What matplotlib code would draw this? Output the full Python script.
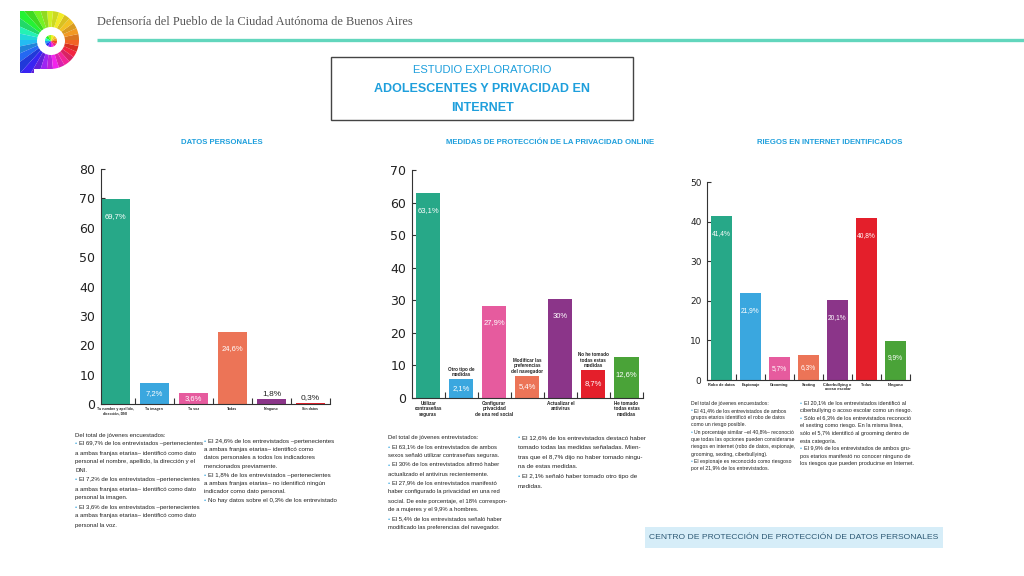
import colorsys
import numpy as np
import matplotlib
matplotlib.use('Agg')
import matplotlib.pyplot as plt
from matplotlib.patches import Rectangle, Polygon, Circle

SANS = ['Liberation Sans', 'DejaVu Sans']
plt.rcParams['font.family'] = SANS

TITLE_BLUE = '#1e9fdc'
BULLET = '#3aa7df'
TEXT = '#222222'

TEAL = '#27a888'
BLUE = '#3aa7df'
PINK = '#e65b9e'
SALMON = '#ec7457'
PURPLE = '#8b3589'
RED = '#e41f2b'
GREEN = '#4aa338'

# --- data ---
datos_cats = ['Tu nombre y apellido,\ndirección, DNI', 'Tu imagen', 'Tu voz',
              'Todas', 'Ninguno', 'Sin datos']
datos_vals = [69.7, 7.2, 3.6, 24.6, 1.8, 0.3]
datos_labels = ['69,7%', '7,2%', '3,6%', '24,6%', '1,8%', '0,3%']

medidas_cats = ['Utilizar\ncontraseñas\nseguras', 'Otro tipo de\nmedidas',
                'Configurar\nprivacidad\nde una red social',
                'Modificar las\npreferencias\ndel navegador',
                'Actualizar el\nantivirus', 'No he tomado\ntodas estas\nmedidas',
                'He tomado\ntodas estas\nmedidas']
medidas_vals = [62.8, 5.7, 28.3, 6.8, 30.3, 8.6, 12.5]   # bar heights as drawn
medidas_labels = ['63,1%', '2,1%', '27,9%', '5,4%', '30%', '8,7%', '12,6%']

riesgos_cats = ['Robo de datos', 'Espionaje', 'Grooming', 'Sexting',
                'Ciberbullying o\nacoso escolar', 'Todas', 'Ninguno']
riesgos_vals = [41.4, 21.9, 5.7, 6.3, 20.1, 40.8, 9.9]
riesgos_labels = ['41,4%', '21,9%', '5,7%', '6,3%', '20,1%', '40,8%', '9,9%']

datos_text_a = [
    'Del total de jóvenes encuestados:',
    '• El 69,7% de los entrevistados –pertenecientes',
    'a ambas franjas etarias– identificó como dato',
    'personal el nombre, apellido, la dirección y el',
    'DNI.',
    '• El 7,2% de los entrevistados –pertenecientes',
    'a ambas franjas etarias– identificó como dato',
    'personal la imagen.',
    '• El 3,6% de los entrevistados –pertenecientes',
    'a ambas franjas etarias– identificó como dato',
    'personal la voz.',
]
datos_text_b = [
    '• El 24,6% de los entrevistados –pertenecientes',
    'a ambas franjas etarias– identificó como',
    'datos personales a todos los indicadores',
    'mencionados previamente.',
    '• El 1,8% de los entrevistados –pertenecientes',
    'a ambas franjas etarias– no identificó ningún',
    'indicador como dato personal.',
    '• No hay datos sobre el 0,3% de los entrevistado',
]
medidas_text_a = [
    'Del total de jóvenes entrevistados:',
    '• El 63,1% de los entrevistados de ambos',
    'sexos señaló utilizar contraseñas seguras.',
    '• El 30% de los entrevistados afirmó haber',
    'actualizado el antivirus recientemente.',
    '• El 27,9% de los entrevistados manifestó',
    'haber configurado la privacidad en una red',
    'social. De este porcentaje, el 18% correspon-',
    'de a mujeres y el 9,9% a hombres.',
    '• El 5,4% de los entrevistados señaló haber',
    'modificado las preferencias del navegador.',
]
medidas_text_b = [
    '• El 12,6% de los entrevistados destacó haber',
    'tomado todas las medidas señaladas. Mien-',
    'tras que el 8,7% dijo no haber tomado ningu-',
    'na de estas medidas.',
    '• El 2,1% señaló haber tomado otro tipo de',
    'medidas.',
]
riesgos_text_a = [
    'Del total de jóvenes encuestados:',
    '• El 41,4% de los entrevistados de ambos',
    'grupos etarios identificó el robo de datos',
    'como un riesgo posible.',
    '• Un porcentaje similar –el 40,8%– reconoció',
    'que todas las opciones pueden considerarse',
    'riesgos en internet (robo de datos, espionaje,',
    'grooming, sexting, ciberbullying).',
    '• El espionaje es reconocido como riesgoso',
    'por el 21,9% de los entrevistados.',
]
riesgos_text_b = [
    '• El 20,1% de los entrevistados identificó al',
    'ciberbullying o acoso escolar como un riesgo.',
    '• Sólo el 6,3% de los entrevistados reconoció',
    'el sexting como riesgo. En la misma línea,',
    'sólo el 5,7% identificó al grooming dentro de',
    'esta categoría.',
    '• El 9,9% de los entrevistados de ambos gru-',
    'pos etarios manifestó no conocer ninguno de',
    'los riesgos que pueden producirse en Internet.',
]

W, H = 1024, 576
fig = plt.figure(figsize=(W / 100, H / 100), dpi=100)
fig.patch.set_facecolor('white')

# background axes in pixel coordinates (y down)
bg = fig.add_axes([0, 0, 1, 1])
bg.set_xlim(0, W)
bg.set_ylim(H, 0)
bg.axis('off')


def hue_color(angle, v=0.95):
    h = np.interp(angle % 360, [0, 90, 135, 180, 225, 270, 315, 360],
                  [25, 70, 120, 190, 235, 290, 335, 385]) % 360
    return colorsys.hsv_to_rgb(h / 360, 0.85, v)


# logo
cx, cy, r_out = 50, 40, 29
t = np.linspace(np.pi / 2, -np.pi / 2, 60)
arc = np.column_stack([cx + r_out * np.cos(t), cy - r_out * np.sin(t)])
verts = [(20, 11)] + arc.tolist() + [(34, 69), (34, 73), (20, 73)]
clip = Polygon(verts, closed=True, facecolor='none', edgecolor='none')
bg.add_patch(clip)
nseg = 30
for k in range(nseg):
    a0, a1 = 360 * k / nseg, 360 * (k + 1) / nseg
    aa = np.radians(np.linspace(a0, a1, 5))
    pts = [(cx, cy)] + [(cx + 50 * np.cos(a), cy - 50 * np.sin(a)) for a in aa]
    seg = Polygon(pts, closed=True, facecolor=hue_color((a0 + a1) / 2, 0.95 if k % 2 else 0.85),
                  edgecolor='none')
    bg.add_patch(seg)
    seg.set_clip_path(clip)
bg.add_patch(Circle((51, 41), 14, facecolor='white', edgecolor='none'))
for k in range(12):
    a0, a1 = 30 * k, 30 * (k + 1)
    aa = np.radians(np.linspace(a0, a1, 5))
    pts = [(51, 41)] + [(51 + 6 * np.cos(a), 41 - 6 * np.sin(a)) for a in aa]
    bg.add_patch(Polygon(pts, closed=True, facecolor=hue_color(a0 + 15), edgecolor='none'))

# header
bg.text(97, 22, 'Defensoría del Pueblo de la Ciudad Autónoma de Buenos Aires',
        family=['Liberation Serif', 'DejaVu Serif'], fontsize=8.9, color='#555555',
        va='center', ha='left')
bg.plot([97, W], [40, 40], color='#62d6bd', lw=2.4, solid_capstyle='butt')

# title box
bg.add_patch(Rectangle((331, 57), 302, 63, facecolor='white', edgecolor='#444444', lw=1))
bg.text(482, 70, 'ESTUDIO EXPLORATORIO', ha='center', va='center',
        fontsize=8, color=TITLE_BLUE)
bg.text(482, 89, 'ADOLESCENTES Y PRIVACIDAD EN', ha='center', va='center',
        fontsize=9, color=TITLE_BLUE, fontweight='bold')
bg.text(482, 108, 'INTERNET', ha='center', va='center',
        fontsize=9, color=TITLE_BLUE, fontweight='bold')

# footer box
bg.add_patch(Rectangle((645, 527), 298, 21, facecolor='#d6edf8', edgecolor='none'))
bg.text(794, 537.5, 'CENTRO DE PROTECCIÓN DE PROTECCIÓN DE DATOS PERSONALES',
        ha='center', va='center', fontsize=6.1, color='#2c5873')


def draw_chart(px, cats, vals, labels, colors, ymax, xleft, ytick_size,
               cat_size, val_size, title, title_xy, above=()):
    x0, x1, ytop, ybot = px
    ax = fig.add_axes([x0 / W, (H - ybot) / H, (x1 - x0) / W, (ybot - ytop) / H])
    ax.patch.set_alpha(0)
    n = len(vals)
    x = np.arange(n)
    ax.bar(x, vals, width=0.73, color=colors, zorder=2)
    ax.set_xlim(xleft, n - 0.5)
    ax.set_ylim(0, ymax)
    for s in ['top', 'right']:
        ax.spines[s].set_visible(False)
    for s in ['left', 'bottom']:
        ax.spines[s].set_color('#333333')
        ax.spines[s].set_linewidth(0.8)
    ax.set_yticks(np.arange(0, ymax + 1, 10))
    ax.tick_params(axis='y', direction='in', length=3, width=0.8, color='#333333',
                   labelsize=ytick_size, labelcolor=TEXT, pad=4)
    for lab in ax.get_yticklabels():
        lab.set_family('DejaVu Sans')
    ax.set_xticks(x)
    ax.set_xticklabels([c if i not in above else '' for i, c in enumerate(cats)],
                       fontsize=cat_size, color=TEXT, fontweight='bold', linespacing=1.1)
    ax.tick_params(axis='x', which='major', length=0, pad=2)
    ax.set_xticks(np.arange(0.5, n, 1), minor=True)
    ax.tick_params(axis='x', which='minor', direction='in', length=4, width=0.8,
                   color='#333333')
    ppu = (ybot - ytop) / ymax
    for i, (v, lab) in enumerate(zip(vals, labels)):
        if v * ppu < 8:
            ax.text(i, v + 2 / ppu, lab, ha='center', va='bottom', fontsize=val_size + 0.5,
                    color=TEXT)
        else:
            yy = max(v - 17 / ppu, v / 2)
            ax.text(i, yy, lab, ha='center', va='center', fontsize=val_size, color='white')
        if i in above:
            ax.text(i, v + 2 / ppu, cats[i], ha='center', va='bottom', fontsize=cat_size,
                    color=TEXT, fontweight='bold', linespacing=1.1)
    bg.text(title_xy[0], title_xy[1], title, ha='center', va='center', fontsize=5.6,
            color=TITLE_BLUE, fontweight='bold')
    return ax


def paragraph(x, y, lines, size, step):
    for i, line in enumerate(lines):
        yy = y + i * step
        if line.startswith('• '):
            bg.text(x, yy, '•', color=BULLET, fontsize=size, va='center', ha='left')
            bg.text(x + size * 0.9, yy, line[2:], color=TEXT, fontsize=size,
                    va='center', ha='left')
        else:
            bg.text(x, yy, line, color=TEXT, fontsize=size, va='center', ha='left')


draw_chart((101, 330, 169, 404), datos_cats, datos_vals, datos_labels,
           [TEAL, BLUE, PINK, SALMON, PURPLE, RED], 80, -0.365, 9, 2.5, 5.5,
           'DATOS PERSONALES', (222, 143))
draw_chart((412, 643, 170, 398), medidas_cats, medidas_vals, medidas_labels,
           [TEAL, BLUE, PINK, SALMON, PURPLE, RED, GREEN], 70, -0.49, 9, 3.3, 5.5,
           'MEDIDAS DE PROTECCIÓN DE LA PRIVACIDAD ONLINE', (550, 142), above=(1, 3, 5))
draw_chart((707, 910, 182, 380), riesgos_cats, riesgos_vals, riesgos_labels,
           [TEAL, BLUE, PINK, SALMON, PURPLE, RED, GREEN], 50, -0.5, 6.5, 2.8, 4.8,
           'RIEGOS EN INTERNET IDENTIFICADOS', (830, 143))

paragraph(75, 435, datos_text_a, 4.3, 9)
paragraph(204, 441, datos_text_b, 4.4, 8.5)
paragraph(388, 438, medidas_text_a, 4.2, 9)
paragraph(518, 438, medidas_text_b, 4.5, 9.6)
paragraph(691, 403, riesgos_text_a, 3.7, 7.3)
paragraph(800, 403, riesgos_text_b, 4.0, 7.6)

fig.savefig('out.png', dpi=100, facecolor='white')
